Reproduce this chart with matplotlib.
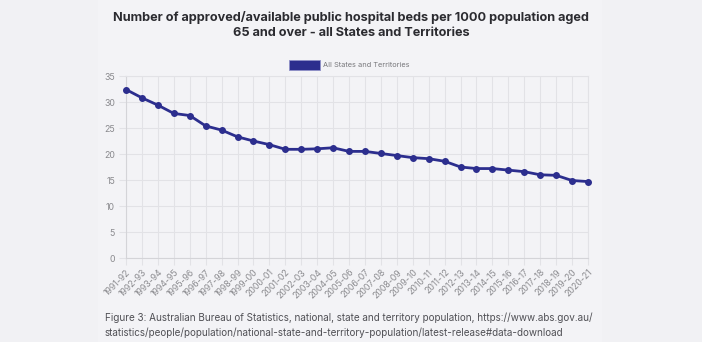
import numpy as np
import matplotlib.pyplot as plt
from matplotlib.patches import Rectangle

years = ["1991-92", "1992-93", "1993-94", "1994-95", "1995-96", "1996-97",
         "1997-98", "1998-99", "1999-00", "2000-01", "2001-02", "2002-03",
         "2003-04", "2004-05", "2005-06", "2006-07", "2007-08", "2008-09",
         "2009-10", "2010-11", "2011-12", "2012-13", "2013-14", "2014-15",
         "2015-16", "2016-17", "2017-18", "2018-19", "2019-20", "2020-21"]
beds = [32.4, 30.8, 29.4, 27.8, 27.4, 25.4, 24.6, 23.3, 22.5, 21.8,
        20.9, 20.9, 21.0, 21.2, 20.5, 20.5, 20.1, 19.7, 19.3, 19.1,
        18.6, 17.5, 17.2, 17.2, 16.9, 16.6, 16.0, 15.9, 14.9, 14.7]
y_ticks = [0, 5, 10, 15, 20, 25, 30, 35]

line_color = "#2c2e8e"
bg = "#f1f1f4"

plt.rcParams['font.family'] = ['Inter', 'DejaVu Sans']

fig = plt.figure(figsize=(7.02, 3.42), dpi=100, facecolor=bg)

# slightly lighter card behind the chart
fig.patches.append(Rectangle((98 / 702, 0), (602 - 98) / 702, 1,
                             transform=fig.transFigure, facecolor="#f3f3f6",
                             edgecolor="none", zorder=-5))

ax = fig.add_axes([126 / 702, 1 - 258 / 342, (588 - 126) / 702, (258 - 76) / 342])
ax.set_facecolor("none")
ax.set_zorder(2)

x = np.arange(len(years))
ax.plot(x, beds, color=line_color, lw=2.0, marker="o", markersize=4,
        zorder=3, clip_on=False)

ax.set_xlim(0, len(years) - 1)
ax.set_ylim(0, 35)
ax.set_yticks(y_ticks)
ax.set_xticks(x)
ax.set_xticklabels(years, rotation=45, ha="right", rotation_mode="anchor")
ax.grid(True, color="#e2e2e6", lw=0.8)
ax.set_axisbelow(True)
for s in ax.spines.values():
    s.set_color("#e2e2e6")
    s.set_linewidth(0.8)
ax.spines["left"].set_color("#d4d4d8")
ax.spines["bottom"].set_color("#d4d4d8")
ax.tick_params(axis="both", colors="#e2e2e6", labelcolor="#8a8a8e",
               labelsize=6.3, length=5, width=0.8)
ax.tick_params(axis="y", pad=3)
ax.tick_params(axis="x", pad=2)

fig.text(0.5, 1 - 18 / 342, "Number of approved/available public hospital beds per 1000 population aged",
         ha="center", va="center", fontsize=9.15, fontweight="bold", color="#2b2b30")
fig.text(0.5, 1 - 33 / 342, "65 and over - all States and Territories",
         ha="center", va="center", fontsize=9.15, fontweight="bold", color="#2b2b30")

# legend swatch and label
fig.patches.append(Rectangle((289 / 702, 1 - 70 / 342), 31 / 702, 10 / 342,
                             transform=fig.transFigure, facecolor=line_color,
                             edgecolor="#8f91c8", lw=0.6, zorder=3))
fig.text(323 / 702, 1 - 65 / 342, "All States and Territories", ha="left", va="center",
         fontsize=5.3, color="#77777b")

fig.text(105 / 702, 1 - 318 / 342,
         "Figure 3: Australian Bureau of Statistics, national, state and territory population, https://www.abs.gov.au/",
         ha="left", va="center", fontsize=7.15, color="#505055")
fig.text(105 / 702, 1 - 333 / 342,
         "statistics/people/population/national-state-and-territory-population/latest-release#data-download",
         ha="left", va="center", fontsize=7.15, color="#505055")

fig.savefig("out.png", dpi=100, facecolor=bg)
